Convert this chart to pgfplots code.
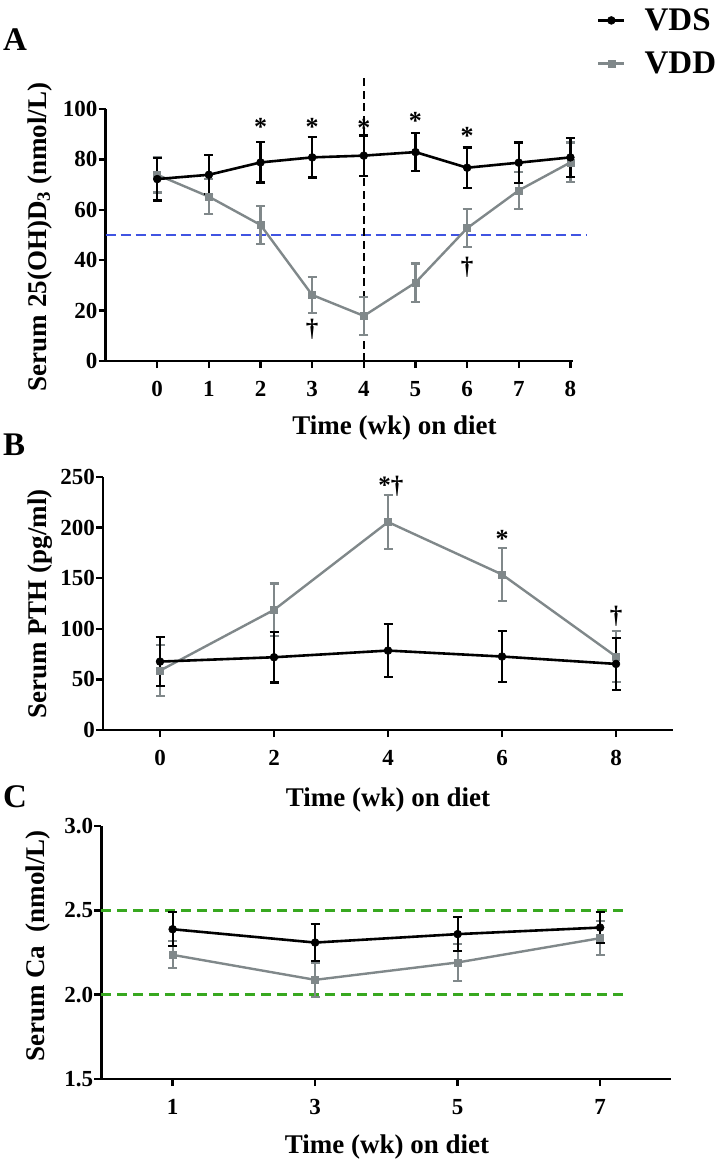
\documentclass[border=0pt]{standalone}
\usepackage{fontspec}
\setmainfont{Liberation Serif}
\usepackage{pgfplots}
\pgfplotsset{compat=1.18}
\definecolor{vddgray}{RGB}{128,136,138}
\definecolor{refblue}{RGB}{64,84,226}
\definecolor{refgreen}{RGB}{56,168,32}
\newcommand{\tickfont}{\fontsize{23}{25}\selectfont\bfseries}
\newcommand{\labfont}{\fontsize{27}{30}\selectfont\bfseries}
\newcommand{\letfont}{\fontsize{33}{36}\selectfont\bfseries}
\newcommand{\starfont}{\fontsize{26}{26}\selectfont\bfseries}
\newcommand{\dagfont}{\fontsize{25}{25}\selectfont\bfseries}
\pgfplotsset{
  panel/.style={
    scale only axis, clip=false,
    axis lines=left,
    axis line style={-, line width=2.4pt, black},
    tick align=outside,
    major tick length=7pt,
    tick style={line width=2.4pt, black},
    tick label style={font=\tickfont, inner sep=1pt},
    xticklabel style={yshift=-12pt},
    /pgf/number format/assume math mode=true,
  },
  vds/.style={black, line width=2.6pt, mark=*, mark size=3.9pt, mark options={line width=0.6pt}},
  vdd/.style={vddgray, line width=2.4pt, mark=square*, mark size=3.5pt, mark options={line width=0.6pt}},
  eb/.style={error bars/y dir=both, error bars/y explicit,
    error bars/error bar style={line width=2.2pt},
    error bars/error mark options={rotate=90, line width=2.2pt, mark size=4.5pt}},
}
\begin{document}
\begin{tikzpicture}
\useasboundingbox (0,0) rectangle (716pt,-1162pt);

% ---------------- Panel A ----------------
\begin{axis}[panel,
  at={(105.6pt,-361pt)}, anchor=south west,
  width=467.4pt, height=252pt,
  xmin=-1, xmax=8.05, ymin=0, ymax=100,
  xtick={0,1,2,3,4,5,6,7,8},
  ytick={0,20,40,60,80,100},
  reverse legend,
  legend cell align=left,
  legend style={at={(1.051,1.266)}, anchor=west, draw=none, fill=none,
    inner sep=0pt, font=\letfont, row sep=20pt,
    nodes={inner sep=0pt},
    /tikz/every odd column/.append style={column sep=19pt}},
  legend image code/.code={\draw[mark repeat=2,mark phase=2,#1] plot coordinates {(0pt,0pt) (13pt,0pt) (26pt,0pt)};},
]
\addplot[refblue, line width=2.4pt, dash pattern=on 10pt off 5pt, forget plot] coordinates {(-1,50) (8.3,50)};
\addplot[black, line width=2pt, dash pattern=on 8pt off 4.5pt, forget plot] coordinates {(4,0) (4,113.5)};
\addplot[vdd, eb] coordinates {
 (0,73.9) +- (0,7.0)
 (1,65.2) +- (0,7.0)
 (2,54.0) +- (0,7.5)
 (3,26.2) +- (0,7.0)
 (4,17.9) +- (0,7.6)
 (5,31.1) +- (0,7.6)
 (6,52.7) +- (0,7.5)
 (7,67.7) +- (0,7.4)
 (8,78.8) +- (0,7.9)
};
\addlegendentry{VDD}
\addplot[vds, eb] coordinates {
 (0,72.2) +- (0,8.5)
 (1,73.9) +- (0,7.7)
 (2,78.8) +- (0,8.0)
 (3,80.8) +- (0,8.0)
 (4,81.5) +- (0,8.0)
 (5,82.9) +- (0,7.6)
 (6,76.7) +- (0,8.0)
 (7,78.7) +- (0,8.0)
 (8,80.8) +- (0,7.7)
};
\addlegendentry{VDS}
\node[font=\starfont] at (axis cs:2,92.7) {*};
\node[font=\starfont] at (axis cs:3,92.7) {*};
\node[font=\starfont] at (axis cs:4,92.3) {*};
\node[font=\starfont] at (axis cs:5,95.3) {*};
\node[font=\starfont] at (axis cs:6,89.4) {*};
\node[font=\dagfont] at (axis cs:3,12.6) {†};
\node[font=\dagfont] at (axis cs:6,37) {†};
\end{axis}

% ---------------- Panel B ----------------
\begin{axis}[panel,
  at={(103pt,-730pt)}, anchor=south west,
  width=570pt, height=253pt,
  xmin=-1, xmax=9, ymin=0, ymax=250,
  xtick={0,2,4,6,8},
  ytick={0,50,100,150,200,250},
]
\addplot[vdd, eb] coordinates {
 (0,58.7) +- (0,25)
 (2,118.7) +- (0,26)
 (4,205.5) +- (0,27)
 (6,153.7) +- (0,26)
 (8,72.6) +- (0,25)
};
\addplot[vds, eb] coordinates {
 (0,67.6) +- (0,24)
 (2,71.9) +- (0,25)
 (4,78.5) +- (0,26)
 (6,72.6) +- (0,25)
 (8,65.3) +- (0,26)
};
\node[font=\dagfont] at (axis cs:4.05,241) {*†};
\node[font=\starfont] at (axis cs:6,188.5) {*};
\node[font=\dagfont] at (axis cs:8,112.5) {†};
\end{axis}

% ---------------- Panel C ----------------
\begin{axis}[panel,
  at={(101.4pt,-1079pt)}, anchor=south west,
  width=570pt, height=253pt,
  xmin=0, xmax=8, ymin=1.5, ymax=3.0,
  xtick={1,3,5,7},
  ytick={1.5,2.0,2.5,3.0},
  yticklabel style={/pgf/number format/.cd, fixed, fixed zerofill, precision=1},
]
\addplot[refgreen, line width=2.4pt, dash pattern=on 10pt off 6pt] coordinates {(0,2.5) (7.4,2.5)};
\addplot[refgreen, line width=2.4pt, dash pattern=on 10pt off 6pt] coordinates {(0,2.0) (7.4,2.0)};
\addplot[vdd, eb] coordinates {
 (1,2.236) +- (0,0.08)
 (3,2.088) +- (0,0.10)
 (5,2.191) +- (0,0.11)
 (7,2.335) +- (0,0.10)
};
\addplot[vds, eb] coordinates {
 (1,2.388) +- (0,0.10)
 (3,2.309) +- (0,0.11)
 (5,2.359) +- (0,0.10)
 (7,2.398) +- (0,0.09)
};
\end{axis}

% ---------------- Labels ----------------
\node[font=\letfont, anchor=base west, inner sep=0pt] at (3pt,-50pt) {A};
\node[font=\letfont, anchor=base west, inner sep=0pt] at (3pt,-455pt) {B};
\node[font=\letfont, anchor=base west, inner sep=0pt] at (3pt,-807pt) {C};

\node[font=\labfont, anchor=base, inner sep=0pt] at (394.5pt,-434pt) {Time (wk) on diet};
\node[font=\labfont, anchor=base, inner sep=0pt] at (388pt,-806pt) {Time (wk) on diet};
\node[font=\labfont, anchor=base, inner sep=0pt] at (387pt,-1153pt) {Time (wk) on diet};

\node[font=\labfont, anchor=base, inner sep=0pt, rotate=90] at (46pt,-237pt) {Serum 25(OH)D\textsubscript{3} (nmol/L)};
\node[font=\labfont, anchor=base, inner sep=0pt, rotate=90] at (46pt,-604pt) {Serum PTH (pg/ml)};
\node[font=\labfont, anchor=base, inner sep=0pt, rotate=90] at (44pt,-946pt) {Serum Ca\ \ (nmol/L)};
\end{tikzpicture}
\end{document}
